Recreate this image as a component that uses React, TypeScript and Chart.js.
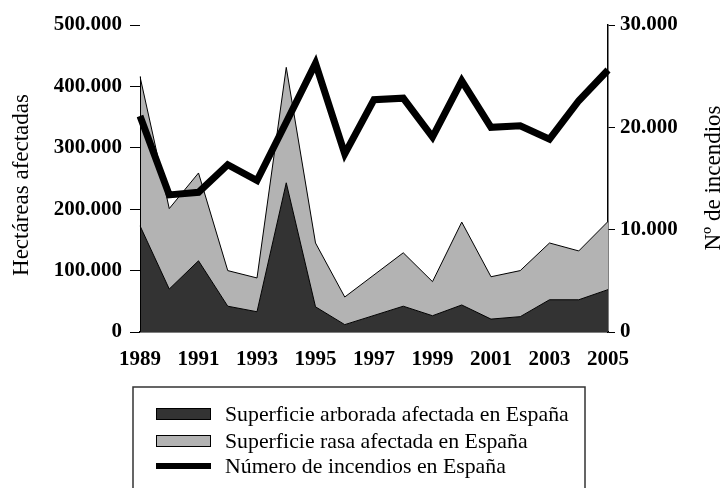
import { useEffect, useRef } from 'react';
import { Chart, registerables } from 'chart.js';

Chart.register(...registerables);

const years = ['1989', '1990', '1991', '1992', '1993', '1994', '1995', '1996', '1997', '1998', '1999', '2000', '2001', '2002', '2003', '2004', '2005'];
const arbolada = [173000, 70000, 116000, 42000, 33000, 243000, 41000, 12000, 27000, 42000, 26500, 44000, 21000, 25000, 52500, 52500, 69000];
const rasa = [243000, 131000, 143000, 58000, 55000, 188000, 104000, 45000, 66000, 87000, 55500, 135000, 69000, 75000, 92500, 79500, 111000];
const incendios = [21100, 13400, 13650, 16350, 14800, 20500, 26250, 17400, 22700, 22850, 19050, 24550, 20000, 20150, 18850, 22600, 25600];

const labelArbolada = 'Superficie arborada afectada en España';
const labelRasa = 'Superficie rasa afectada en España';
const labelIncendios = 'Número de incendios en España';
const titleLeft = 'Hectáreas afectadas';
const titleRight = 'Nº de incendios';

const SERIF = '"Liberation Serif", "Times New Roman", serif';

const fmt = (v: number) => String(Math.round(v)).replace(/\B(?=(\d{3})+(?!\d))/g, '.');

const decorPlugin = {
  id: 'decor',
  afterDraw(chart: any) {
    const ctx = chart.ctx as CanvasRenderingContext2D;
    const area = chart.chartArea;
    ctx.save();
    // left vertical edge of the stacked area
    const meta = chart.getDatasetMeta(2);
    const p0 = meta.data[0];
    if (p0) {
      ctx.strokeStyle = '#000';
      ctx.lineWidth = 1;
      ctx.beginPath();
      ctx.moveTo(Math.round(p0.x) + 0.5, p0.y);
      ctx.lineTo(Math.round(p0.x) + 0.5, area.bottom);
      ctx.stroke();
    }
    // axis titles
    ctx.fillStyle = '#000';
    ctx.font = `23px ${SERIF}`;
    ctx.textAlign = 'center';
    ctx.textBaseline = 'middle';
    ctx.save();
    ctx.translate(22, 185);
    ctx.rotate(-Math.PI / 2);
    ctx.fillText(titleLeft, 0, 0);
    ctx.restore();
    ctx.save();
    ctx.translate(714, 178);
    ctx.rotate(-Math.PI / 2);
    ctx.fillText(titleRight, 0, 0);
    ctx.restore();
    // legend box
    ctx.strokeStyle = '#333';
    ctx.lineWidth = 1.5;
    ctx.strokeRect(133, 387, 452, 130);
    const ds = chart.data.datasets;
    const order = [1, 2, 0];
    const rows = [414, 441, 466];
    ctx.font = `21.8px ${SERIF}`;
    ctx.textAlign = 'left';
    order.forEach((idx, i) => {
      const d = ds[idx];
      const cy = rows[i];
      if (d.fill === false) {
        ctx.fillStyle = d.borderColor;
        ctx.fillRect(156, cy - 3, 55, 6);
      } else {
        ctx.fillStyle = d.backgroundColor;
        ctx.fillRect(156, cy - 6, 55, 12);
        ctx.strokeStyle = '#000';
        ctx.lineWidth = 1;
        ctx.strokeRect(156.5, cy - 5.5, 54, 11);
      }
      ctx.fillStyle = '#000';
      ctx.fillText(d.label, 225, cy + 1);
    });
    ctx.restore();
  },
};

export default function App() {
  const ref = useRef<HTMLCanvasElement | null>(null);
  useEffect(() => {
    document.body.style.margin = '0';
    if (!ref.current) return;
    const tickFont = { family: SERIF, size: 21, weight: 'bold' as const };
    const chart = new Chart(ref.current, {
      type: 'line',
      data: {
        labels: years,
        datasets: [
          {
            label: labelIncendios,
            data: incendios,
            yAxisID: 'y1',
            borderColor: '#000',
            backgroundColor: '#000',
            borderWidth: 7,
            pointRadius: 0,
            fill: false,
            tension: 0,
            borderJoinStyle: 'miter',
          },
          {
            label: labelArbolada,
            data: arbolada,
            yAxisID: 'y',
            borderColor: '#000',
            backgroundColor: '#333333',
            borderWidth: 1,
            pointRadius: 0,
            fill: 'origin',
            tension: 0,
          },
          {
            label: labelRasa,
            data: rasa,
            yAxisID: 'y',
            borderColor: '#000',
            backgroundColor: '#b3b3b3',
            borderWidth: 1,
            pointRadius: 0,
            fill: '-1',
            tension: 0,
          },
        ],
      },
      options: {
        responsive: false,
        animation: false,
        devicePixelRatio: 1,
        layout: { padding: { top: 25, bottom: 116, left: 0, right: 0 } },
        plugins: {
          legend: { display: false },
          tooltip: { enabled: false },
        },
        scales: {
          x: {
            type: 'category',
            offset: false,
            grid: { display: false },
            border: { display: true, color: '#000', width: 1.5 },
            ticks: {
              autoSkip: false,
              maxRotation: 0,
              color: '#000',
              font: tickFont,
              padding: 7,
              callback: (_v: any, i: number) => (i % 2 === 0 ? years[i] : ''),
            },
            afterFit: (s: any) => { s.height = 40; },
          },
          y: {
            position: 'left',
            stacked: true,
            min: 0,
            max: 500000,
            grid: { drawOnChartArea: false, drawTicks: true, tickLength: 10, color: '#000', lineWidth: 1 },
            border: { display: false },
            ticks: {
              stepSize: 100000,
              color: '#000',
              font: tickFont,
              padding: 8,
              callback: (v: any) => fmt(Number(v)),
            },
            afterFit: (s: any) => { s.width = 140; },
          },
          y1: {
            position: 'right',
            min: 0,
            max: 30000,
            grid: { drawOnChartArea: false, drawTicks: true, tickLength: 7, color: '#000', lineWidth: 1 },
            border: { display: true, color: '#000', width: 1.5 },
            ticks: {
              stepSize: 10000,
              color: '#000',
              font: tickFont,
              padding: 5,
              callback: (v: any) => fmt(Number(v)),
            },
            afterFit: (s: any) => { s.width = 114; },
          },
        },
      },
      plugins: [decorPlugin],
    } as any);
    return () => chart.destroy();
  }, []);
  return (
    <div style={{ width: 722, height: 488 }}>
      <canvas ref={ref} width={722} height={488} style={{ display: 'block', width: 722, height: 488 }} />
    </div>
  );
}
